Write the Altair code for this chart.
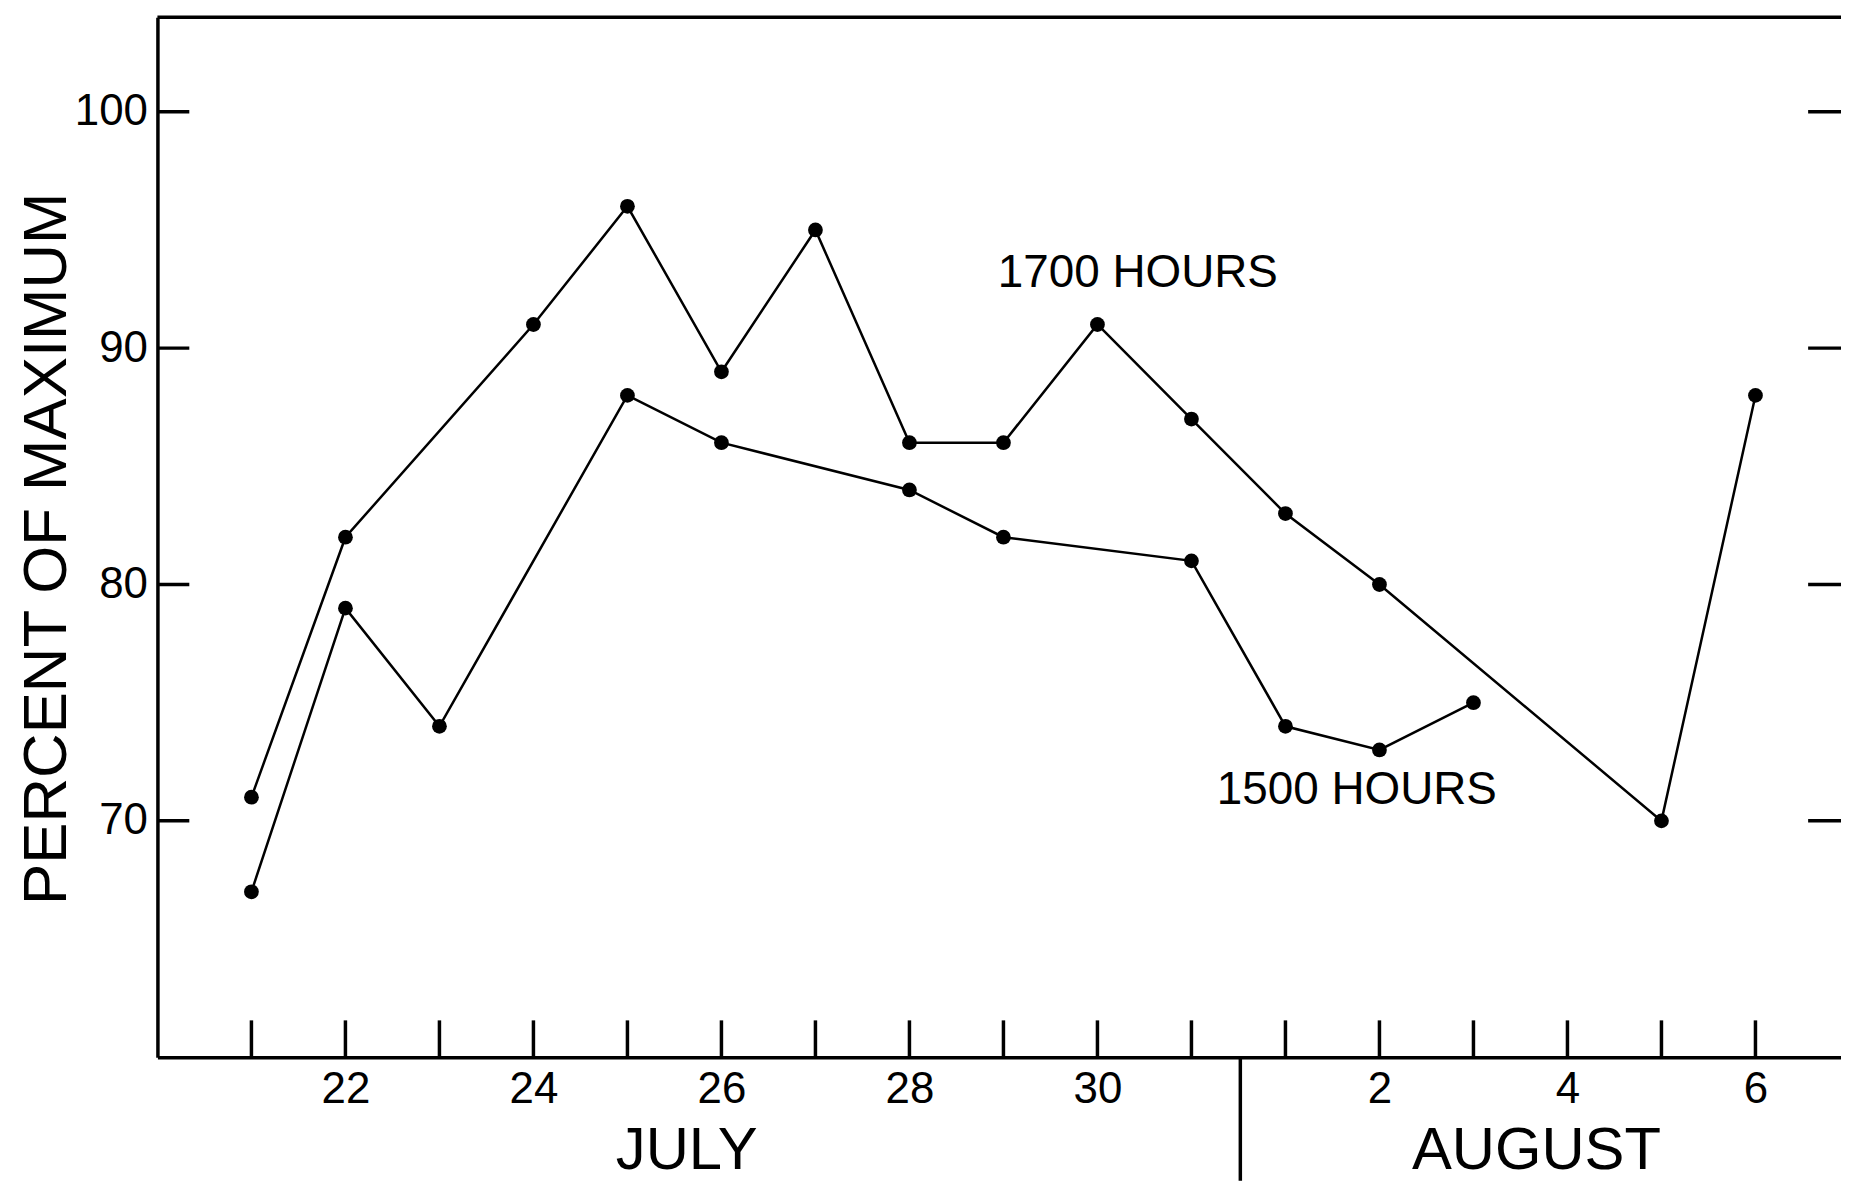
import altair as alt
import pandas as pd

# Day index counted from July 20 (July 21 = 1 ... July 31 = 11, Aug 1 = 12 ... Aug 6 = 17)
days_1700 = [1, 2, 4, 5, 6, 7, 8, 9, 10, 11, 12, 13, 16, 17]
vals_1700 = [71, 82, 91, 96, 89, 95, 86, 86, 91, 87, 83, 80, 70, 88]
days_1500 = [1, 2, 3, 5, 6, 8, 9, 11, 12, 13, 14]
vals_1500 = [67, 79, 74, 88, 86, 84, 82, 81, 74, 73, 75]

tick_days = list(range(1, 18))
label_days = [2, 4, 6, 8, 10, 13, 15, 17]
y_ticks = [70, 80, 90, 100]
month_names = ["JULY", "AUGUST"]
month_centers = [5.63, 14.67]
month_break = [11.52]
series_names = ["1700 HOURS", "1500 HOURS"]
series_label_x = [8.94, 11.27]
series_label_y = [92.6, 70.7]

X_DOMAIN = [0, 17.91]
Y_DOMAIN = [60, 104]
W, H = 1690, 1044
FONT = "Liberation Sans"

df = pd.DataFrame(
    {"day": days_1700 + days_1500,
     "val": vals_1700 + vals_1500,
     "series": ["1700"] * len(days_1700) + ["1500"] * len(days_1500)}
)
ticks_df = pd.DataFrame({"day": tick_days})
yt_df = pd.DataFrame({"val": y_ticks})
month_df = pd.DataFrame({"name": month_names, "day": month_centers})
break_df = pd.DataFrame({"day": month_break})
lab_df = pd.DataFrame({"name": series_names, "day": series_label_x, "val": series_label_y})

xs = alt.Scale(domain=X_DOMAIN, nice=False, zero=False)
ys = alt.Scale(domain=Y_DOMAIN, nice=False, zero=False)

x_axis = alt.Axis(
    values=label_days,
    labelExpr="datum.value <= 11 ? datum.value + 20 : datum.value - 11",
    ticks=False, grid=False, domainWidth=3.5, domainColor="black",
    labelFont=FONT, labelFontSize=44, labelColor="black", labelPadding=10,
    title=None,
)
y_axis = alt.Axis(
    values=y_ticks, ticks=False, grid=False, domainWidth=3.5, domainColor="black",
    labelFont=FONT, labelFontSize=44, labelColor="black", labelPadding=10,
    title="PERCENT OF MAXIMUM", titleFont=FONT, titleFontSize=62,
    titleFontWeight="normal", titleColor="black", titleAngle=-90,
    titleX=-92, titleY=533, titleAlign="center", titleBaseline="alphabetic",
)

lines = alt.Chart(df).mark_line(color="black", strokeWidth=2.5).encode(
    x=alt.X("day:Q", scale=xs, axis=x_axis),
    y=alt.Y("val:Q", scale=ys, axis=y_axis),
    detail="series:N",
)
points = alt.Chart(df).mark_circle(color="black", opacity=1, size=220).encode(
    x=alt.X("day:Q", scale=xs), y=alt.Y("val:Q", scale=ys)
)
xticks = alt.Chart(ticks_df).mark_rule(color="black", strokeWidth=3.5).encode(
    x=alt.X("day:Q", scale=xs), y=alt.value(H), y2=alt.value(H - 37)
)
lticks = alt.Chart(yt_df).mark_rule(color="black", strokeWidth=3.5).encode(
    y=alt.Y("val:Q", scale=ys), x=alt.value(0), x2=alt.value(32)
)
rticks = alt.Chart(yt_df).mark_rule(color="black", strokeWidth=3.5).encode(
    y=alt.Y("val:Q", scale=ys), x=alt.value(W - 33), x2=alt.value(W)
)
topline = alt.Chart(break_df).mark_rule(color="black", strokeWidth=3.5).encode(
    x=alt.value(0), x2=alt.value(W), y=alt.value(0)
)
sep = alt.Chart(break_df).mark_rule(color="black", strokeWidth=3.5).encode(
    x=alt.X("day:Q", scale=xs), y=alt.value(H), y2=alt.value(H + 124)
)
months = alt.Chart(month_df).mark_text(
    font=FONT, fontSize=60, color="black", align="center", baseline="alphabetic"
).encode(x=alt.X("day:Q", scale=xs), y=alt.value(H + 112), text="name:N")
labels = alt.Chart(lab_df).mark_text(
    font=FONT, fontSize=46, color="black", align="left", baseline="alphabetic"
).encode(x=alt.X("day:Q", scale=xs), y=alt.Y("val:Q", scale=ys), text="name:N")

chart = alt.layer(
    lines, points, xticks, lticks, rticks, topline, sep, months, labels
).properties(
    width=W, height=H,
    autosize=alt.AutoSizeParams(type="none"),
    padding={"left": 150, "top": 7, "right": 0, "bottom": 124},
    background="white",
).configure_view(stroke=None)

chart.save("out.html", embed_options={"renderer": "svg", "actions": False})
